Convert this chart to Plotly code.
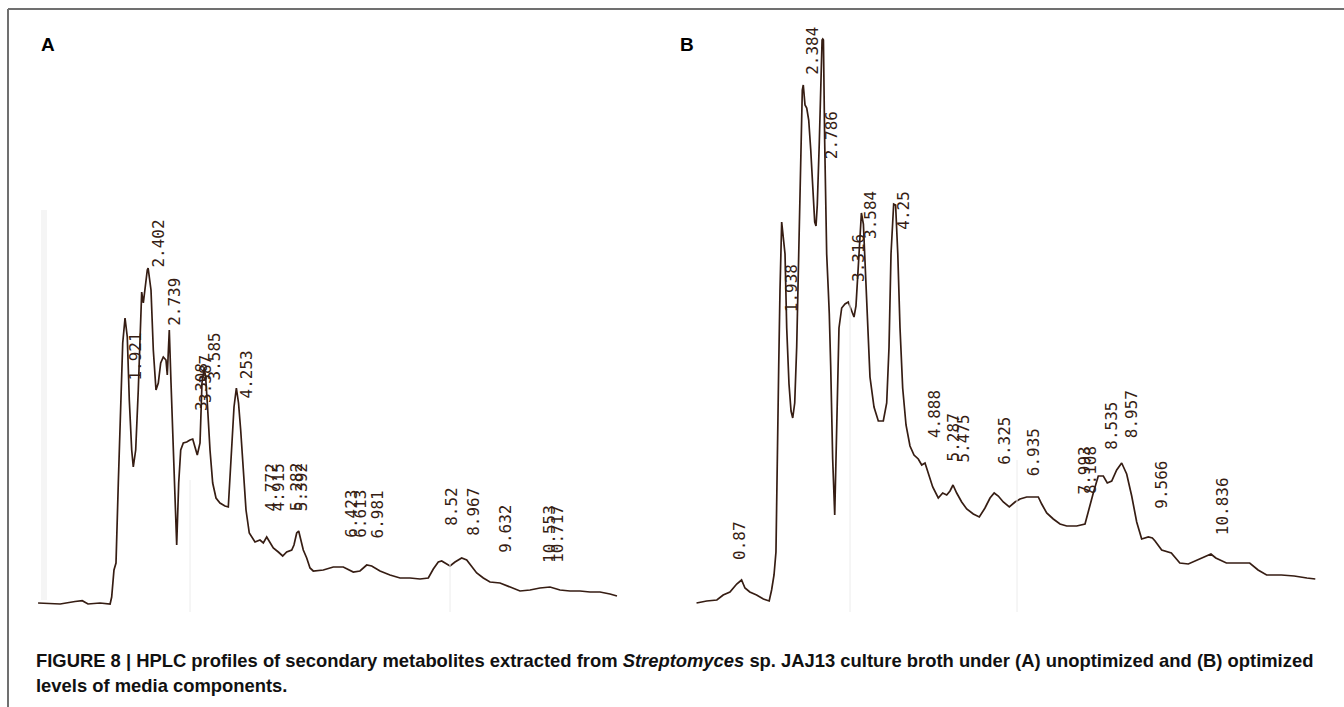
import plotly.graph_objects as go

# ---- Chromatogram A: unoptimized medium (retention time in min, detector response in mAU) ----
A_time = [0.11, 0.57, 0.88, 1.03, 1.15, 1.40, 1.61, 1.643, 1.691, 1.733, 1.781, 1.831, 1.873, 1.921,
          1.968, 2.010, 2.060, 2.093, 2.143, 2.197, 2.233, 2.268, 2.302, 2.337, 2.385, 2.402, 2.462,
          2.510, 2.566, 2.614, 2.664, 2.718, 2.774, 2.801, 2.843, 2.879, 2.926, 2.962, 2.997, 3.039,
          3.081, 3.135, 3.206, 3.274, 3.331, 3.378, 3.426, 3.483, 3.524, 3.570, 3.600, 3.640, 3.691,
          3.747, 3.816, 3.899, 4.003, 4.072, 4.143, 4.191, 4.240, 4.285, 4.330, 4.385, 4.441, 4.509,
          4.628, 4.732, 4.801, 4.872, 4.941, 5.009, 5.114, 5.205, 5.288, 5.393, 5.440, 5.497, 5.538,
          5.580, 5.634, 5.705, 5.774, 5.842, 6.051, 6.259, 6.467, 6.676, 6.815, 6.955, 7.059, 7.232,
          7.440, 7.649, 7.857, 8.065, 8.238, 8.342, 8.446, 8.517, 8.586, 8.690, 8.794, 8.933, 9.038,
          9.142, 9.246, 9.384, 9.523, 9.731, 9.940, 10.148, 10.356, 10.564, 10.773, 10.981, 11.189,
          11.397, 11.606, 11.814, 12.022, 12.168]
A_signal = [1, 0, 2.5, 3.3, 0, 1, 0, 7, 34, 41, 121, 204, 261, 286,
            267, 204, 154, 137, 154, 214, 271, 312, 301, 317, 334, 336, 314,
            254, 214, 221, 241, 247, 244, 229, 274, 221, 161, 104, 59, 121,
            154, 161, 162, 164, 165, 157, 149, 161, 221, 236, 227, 197, 154,
            121, 106, 101, 98, 97, 154, 197, 216, 201, 174, 137, 94, 71,
            62, 64, 61, 67, 62, 56, 52, 48, 52, 54, 59, 71, 73,
            64, 54, 46, 36, 33, 34, 37, 37, 32, 33, 39, 38, 33,
            29, 26, 26, 25, 26, 35, 42, 43, 41, 38, 42, 46, 44,
            37, 31, 26, 22, 21, 17, 13, 14, 16, 17, 14, 13,
            13, 12, 12, 10, 8]

A_peaks = ["1.921", "2.402", "2.739", "3.308", "3.387", "3.585", "4.253", "4.772", "4.915",
           "5.282", "5.392", "6.423", "6.613", "6.981", "8.52", "8.967", "9.632", "10.553", "10.717"]

# ---- Chromatogram B: optimized medium ----
B_time = [0.18, 0.39, 0.60, 0.73, 0.87, 1.01, 1.11, 1.18, 1.28, 1.42, 1.56, 1.68, 1.73, 1.78,
          1.82, 1.848, 1.877, 1.903, 1.925, 1.938, 2.007, 2.042, 2.089, 2.131, 2.166, 2.207, 2.248,
          2.289, 2.331, 2.364, 2.384, 2.420, 2.455, 2.496, 2.537, 2.578, 2.620, 2.647, 2.673, 2.715,
          2.750, 2.772, 2.786, 2.800, 2.826, 2.867, 2.901, 2.921, 2.950, 2.991, 3.033, 3.074, 3.121,
          3.177, 3.245, 3.313, 3.369, 3.431, 3.472, 3.530, 3.584, 3.625, 3.660, 3.710, 3.761, 3.844,
          3.933, 4.036, 4.106, 4.154, 4.195, 4.250, 4.290, 4.335, 4.381, 4.436, 4.505, 4.587, 4.670,
          4.758, 4.829, 4.897, 4.965, 5.056, 5.171, 5.262, 5.345, 5.413, 5.475, 5.551, 5.654, 5.758,
          5.894, 6.018, 6.135, 6.239, 6.325, 6.410, 6.513, 6.637, 6.755, 6.858, 6.996, 7.133, 7.236,
          7.306, 7.409, 7.545, 7.684, 7.822, 8.028, 8.200, 8.268, 8.371, 8.474, 8.578, 8.660, 8.751,
          8.854, 8.957, 9.060, 9.164, 9.267, 9.370, 9.507, 9.590, 9.646, 9.783, 9.982, 10.157,
          10.333, 10.506, 10.800, 10.900, 11.119, 11.381, 11.600, 11.773, 11.949, 12.254, 12.518,
          12.781, 12.954]
B_signal = [1, 3, 4, 9, 12, 20, 24, 16, 12, 9, 5, 3, 14, 29,
            52, 126, 238, 313, 375, 382, 350, 276, 220, 193, 186, 201, 257,
            350, 443, 514, 519, 499, 496, 484, 455, 417, 382, 378, 399, 462,
            529, 564, 565, 564, 462, 350, 313, 290, 238, 145, 89, 182, 276,
            296, 300, 302, 295, 287, 298, 343, 391, 380, 343, 283, 227, 197,
            183, 183, 201, 257, 350, 400, 399, 350, 276, 216, 179, 158, 149,
            145, 139, 141, 130, 117, 106, 111, 109, 113, 119, 111, 102, 95,
            90, 87, 96, 106, 111, 108, 102, 97, 102, 105, 107, 107, 107,
            100, 91, 85, 80, 78, 78, 80, 93, 111, 128, 128, 121, 123,
            134, 141, 130, 108, 82, 65, 67, 66, 63, 54, 51, 41,
            40, 44, 50, 46, 41, 41, 41, 34, 29, 29, 28,
            26, 25]

B_peaks = ["0.87", "1.938", "2.384", "2.786", "3.316", "3.584", "4.25", "4.888", "5.287", "5.475",
           "6.325", "6.935", "7.993", "8.108", "8.535", "8.957", "9.566", "10.836"]

# Height (mAU) at which each printed retention-time label starts
A_label_base = [221, 334, 276, 191, 199, 222, 204, 91, 91, 91, 91, 64, 64, 64, 76, 66, 49, 39, 39]
B_label_base = [42, 290, 527, 443, 320, 363, 372, 164, 141, 139, 137, 126, 108, 108, 152, 164, 93, 67]

W, H = 1344, 707
INK = "#361d13"
LABEL_FONT = dict(family="DejaVu Sans Mono", size=16, color=INK)

# pixel layout of the two recorder strips
Y_BASE_PX, Y_PER_UNIT = 604, 1.0
A_X0_PX, A_PX_PER_MIN, A_TMAX = 32.8, 48.01, 12.5
B_X0_PX, B_PX_PER_MIN, B_TMAX = 687.8, 48.44, 13.4
Y_MIN, Y_MAX = -20, 600

fig = go.Figure()
fig.add_trace(go.Scatter(x=A_time, y=A_signal, mode="lines", xaxis="x", yaxis="y",
                         line=dict(color=INK, width=1.7), hoverinfo="skip", showlegend=False))
fig.add_trace(go.Scatter(x=B_time, y=B_signal, mode="lines", xaxis="x2", yaxis="y",
                         line=dict(color=INK, width=1.7), hoverinfo="skip", showlegend=False))

annotations = []
for xref, peaks, bases in (("x", A_peaks, A_label_base), ("x2", B_peaks, B_label_base)):
    for rt, base in zip(peaks, bases):
        annotations.append(dict(x=float(rt), y=base, xref=xref, yref="y", text=rt,
                                textangle=-90, xanchor="left", yanchor="bottom", xshift=-2,
                                showarrow=False, font=LABEL_FONT))

# panel letters
annotations.append(dict(x=48 / W, y=1 - 44 / H, xref="paper", yref="paper", text="<b>A</b>",
                        showarrow=False, xanchor="center", yanchor="middle",
                        font=dict(family="Liberation Sans", size=19, color="#000000")))
annotations.append(dict(x=687 / W, y=1 - 44 / H, xref="paper", yref="paper", text="<b>B</b>",
                        showarrow=False, xanchor="center", yanchor="middle",
                        font=dict(family="Liberation Sans", size=19, color="#000000")))

# caption
cap_font = dict(family="Liberation Sans", size=18.4, color="#111111")
annotations.append(dict(
    x=34 / W, y=1 - 660 / H, xref="paper", yref="paper", xanchor="left", yanchor="middle",
    showarrow=False, font=cap_font, align="left",
    text="<b>FIGURE 8 | HPLC profiles of secondary metabolites extracted from <i>Streptomyces</i> sp. "
         "JAJ13 culture broth under (A) unoptimized and (B) optimized</b>"))
annotations.append(dict(
    x=34 / W, y=1 - 685 / H, xref="paper", yref="paper", xanchor="left", yanchor="middle",
    showarrow=False, font=cap_font, align="left",
    text="<b>levels of media components.</b>"))

# figure frame (top and left rules) and faint scanner streaks on the strips
shapes = [
    dict(type="line", xref="paper", yref="paper", x0=8 / W, x1=1, y0=1 - 9 / H, y1=1 - 9 / H,
         line=dict(color="#707070", width=2)),
    dict(type="line", xref="paper", yref="paper", x0=8 / W, x1=8 / W, y0=1 - 9 / H, y1=0,
         line=dict(color="#707070", width=2)),
]
for xs, y_top in ((190, 480), (450, 560), (850, 300), (1017, 460)):
    shapes.append(dict(type="line", xref="paper", yref="paper", x0=xs / W, x1=xs / W,
                       y0=1 - y_top / H, y1=1 - 612 / H, line=dict(color="#ececec", width=1)))
shapes.append(dict(type="line", xref="paper", yref="paper", x0=44 / W, x1=44 / W,
                   y0=1 - 210 / H, y1=1 - 600 / H, line=dict(color="#f5f5f5", width=6)))

y_top_px = Y_BASE_PX - Y_MAX * Y_PER_UNIT
y_bot_px = Y_BASE_PX - Y_MIN * Y_PER_UNIT
axis_common = dict(visible=False, showgrid=False, zeroline=False, fixedrange=True)

fig.update_layout(
    width=W, height=H, margin=dict(l=0, r=0, t=0, b=0),
    paper_bgcolor="white", plot_bgcolor="white",
    xaxis=dict(domain=[A_X0_PX / W, (A_X0_PX + A_PX_PER_MIN * A_TMAX) / W],
               range=[0, A_TMAX], anchor="y", **axis_common),
    xaxis2=dict(domain=[B_X0_PX / W, (B_X0_PX + B_PX_PER_MIN * B_TMAX) / W],
                range=[0, B_TMAX], anchor="y", **axis_common),
    yaxis=dict(domain=[1 - y_bot_px / H, 1 - y_top_px / H], range=[Y_MIN, Y_MAX], **axis_common),
    annotations=annotations, shapes=shapes, showlegend=False,
)

fig.write_html("out.html")
